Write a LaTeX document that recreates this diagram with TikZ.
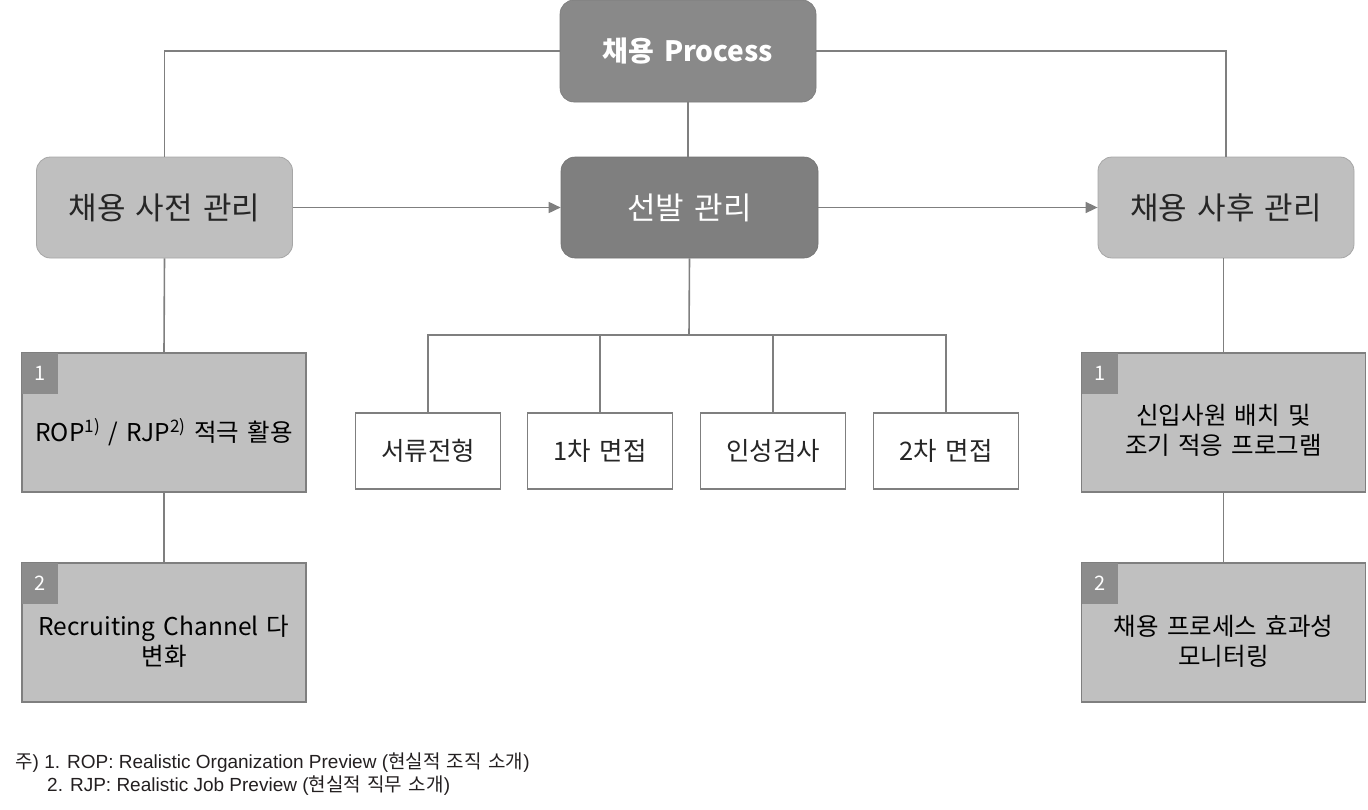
\documentclass[tikz,border=0pt]{standalone}
\usepackage{fontspec}
\setmainfont{Noto Sans CJK KR}[WordSpace=1.5]
\newfontfamily\fnlat{Liberation Sans}
\usetikzlibrary{arrows.meta}
\definecolor{linegray}{HTML}{7F7F7F}
\definecolor{topfill}{HTML}{898989}
\definecolor{midfill}{HTML}{7F7F7F}
\definecolor{sidefill}{HTML}{BFBFBF}
\definecolor{sideline}{HTML}{A6A6A6}
\definecolor{itemfill}{HTML}{C0C0C0}
\definecolor{tagfill}{HTML}{8C8C8C}
\definecolor{darktext}{HTML}{262626}
\definecolor{fntext}{HTML}{231F20}
\begin{document}
\begin{tikzpicture}[x=1pt,y=-1pt,
  conn/.style={draw=linegray,line width=1.6pt},
  arr/.style={conn,-{Triangle[length=12pt,width=11pt]}},
  topbox/.style={rounded corners=14pt,fill=topfill,draw=topfill!90!black,line width=0.6pt,minimum width=256pt,minimum height=102pt,inner sep=0pt,text=white,font=\fontsize{28}{32}\selectfont\bfseries},
  midbox/.style={rounded corners=14pt,fill=midfill,draw=midfill!90!black,line width=0.6pt,minimum width=257pt,minimum height=101pt,inner sep=0pt,text=white,font=\fontsize{31}{36}\selectfont},
  sidebox/.style={rounded corners=14pt,fill=sidefill,draw=sideline,line width=0.8pt,minimum width=256pt,minimum height=101pt,inner sep=0pt,text=darktext,font=\fontsize{31}{36}\selectfont},
  stagebox/.style={draw=linegray,line width=1.6pt,fill=white,minimum width=145pt,minimum height=76pt,inner sep=0pt,text=darktext,font=\fontsize{25.5}{30}\selectfont},
  itembox/.style={draw=linegray,line width=1.6pt,fill=itemfill,minimum width=284pt,minimum height=139pt,inner sep=0pt},
  itemtext/.style={text=black,align=center,font=\fontsize{24.5}{30}\selectfont},
  tag/.style={fill=tagfill,minimum width=36pt,minimum height=41pt,inner sep=0pt,anchor=north west,text=white,font=\fontsize{20}{22}\selectfont},
  fn/.style={anchor=west,inner sep=0pt,text=fntext,font=\fontsize{19}{22}\selectfont}]
\useasboundingbox (0,0) rectangle (1368,809);

% main boxes
\node[topbox] (proc) at (688,51) {채용 Process};
\node[midbox] (sel) at (689.5,207.5) {선발 관리};
\node[sidebox] (pre) at (164.5,207.5) {채용 사전 관리};
\node[sidebox] (post) at (1226,207.5) {채용 사후 관리};

% stage boxes
\node[stagebox] (s1) at (428,451) {서류전형};
\node[stagebox] (s2) at (600,451) {1차 면접};
\node[stagebox] (s3) at (773,451) {인성검사};
\node[stagebox] (s4) at (946,451) {2차 면접};

% item boxes
\node[itembox] (l1) at (164,422.5) {};
\node[itembox] (l2) at (164,632.5) {};
\node[itembox] (r1) at (1223.5,422.5) {};
\node[itembox] (r2) at (1223.5,632.5) {};

\node[tag] (l1t) at ([shift={(0.8,0.8)}]l1.north west) {1};
\node[tag] (l2t) at ([shift={(0.8,0.8)}]l2.north west) {2};
\node[tag] (r1t) at ([shift={(0.8,0.8)}]r1.north west) {1};
\node[tag] (r2t) at ([shift={(0.8,0.8)}]r2.north west) {2};

\node[itemtext] (l1x) at (164,432) {ROP\textsuperscript{1)} / RJP\textsuperscript{2)} 적극 활용};
\node[itemtext] (l2x) at (164,641) {Recruiting Channel 다\\변화};
\node[itemtext] (r1x) at (1223.5,430) {신입사원 배치 및\\조기 적응 프로그램};
\node[itemtext] (r2x) at (1223.5,641) {채용 프로세스 효과성\\모니터링};

% connectors from top
\draw[conn] (proc.west) -| (pre.north);
\draw[conn] (proc.east) -| (post.north);
\draw[conn] (proc.south) -- (proc.south |- sel.north);

% arrows
\draw[arr] (pre.east) -- (sel.west);
\draw[arr] (sel.east) -- (post.west);

% selection tree
\coordinate (bus) at (689,335);
\draw[conn] (sel.south) -- (bus);
\draw[conn] (s1.north) |- (bus) -| (s4.north);
\draw[conn] (s2.north) -- (s2.north |- bus);
\draw[conn] (s3.north) -- (s3.north |- bus);

% item chains
\draw[conn] (pre.south) -- (l1.north);
\draw[conn] (l1.south) -- (l2.north);
\draw[conn] (post.south -| r1.north) -- (r1.north);
\draw[conn] (r1.south) -- (r2.north);

% footnote
\node[fn] (fn1) at (15,763) {주{\fnlat) 1. ROP: Realistic Organization Preview (}현실적 조직 소개{\fnlat )}};
\node[fn] (fn2) at (47,786) {{\fnlat 2. RJP: Realistic Job Preview (}현실적 직무 소개{\fnlat )}};
\end{tikzpicture}
\end{document}
